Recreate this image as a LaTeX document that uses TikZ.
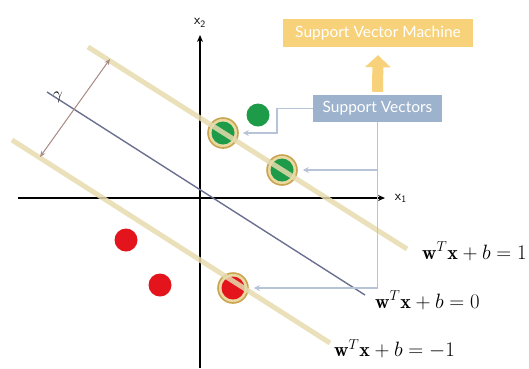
\documentclass[tikz,border=0pt]{standalone}
\usepackage{amsmath,amssymb,bm}
\usepackage{fontspec}
\newfontfamily\boxfont{Lato}
\usetikzlibrary{positioning,arrows.meta,calc}

\definecolor{margintan}{HTML}{E6DAAE}
\definecolor{hypblue}{HTML}{6B7090}
\definecolor{gapbrown}{HTML}{A88A86}
\definecolor{ptgreen}{HTML}{1E9B48}
\definecolor{ptred}{HTML}{E3141B}
\definecolor{ringgold}{HTML}{C9A552}
\definecolor{ringfill}{HTML}{EAD9A2}
\definecolor{svmyellow}{HTML}{F7D27A}
\definecolor{svblue}{HTML}{9DB2CD}
\definecolor{connblue}{HTML}{B7C4D7}

\begin{document}
\begin{tikzpicture}[x=1pt,y=-1pt,
  axis/.style={line width=1.3pt,-{Stealth[length=7pt,width=6pt]}},
  marginline/.style={line width=5pt,margintan,opacity=0.85},
  dot/.style={circle,minimum size=23pt,inner sep=0pt},
  supvec/.style={circle,draw=ringgold,fill=ringfill,line width=1.6pt,minimum size=30pt,inner sep=0pt},
  conn/.style={connblue,line width=1.5pt,-{Stealth[length=6pt,width=6pt]}},
  tagbox/.style={text=white,font=\boxfont\fontsize{15.5}{17}\selectfont,inner sep=0pt},
  eqlabel/.style={anchor=west,font=\fontsize{20}{22}\selectfont,inner sep=0pt}]
\useasboundingbox (0,0) rectangle (529,368);
% axes
\draw[axis] (200,368) -- (200,35) node[above=4pt] (xtwo) {\sffamily\fontsize{14}{14}\selectfont x\textsubscript{2}};
\draw[axis] (18,198) -- (385,198) node[right=6pt] (xone) {\sffamily\fontsize{14}{14}\selectfont x\textsubscript{1}};
% points
\node[dot,fill=ptgreen] (g1) at (258,115) {};
\node[dot,fill=ptred] (r1) at (126,240) {};
\node[dot,fill=ptred] (r2) at (160,285) {};
\node[supvec] (sv1) at (223,133) {};
\node[dot,fill=ptgreen] at (sv1) {};
\node[supvec] (sv2) at (282,170) {};
\node[dot,fill=ptgreen] at (sv2) {};
\node[supvec] (sv3) at (233,288) {};
\node[dot,fill=ptred] at (sv3) {};
% hyperplanes
\draw[hypblue,line width=1.4pt] (47,92) -- (365,295);
\draw[marginline] (88,47) -- (407,249);
\draw[marginline] (12,140) -- (330,343);
% margin width
\draw[gapbrown,line width=1pt,{Stealth[length=6pt,width=5pt]}-{Stealth[length=6pt,width=5pt]}] (110,59) -- (40,157);
\node[font=\fontsize{18}{18}\selectfont] (gam) at (58,97) {$\gamma$};
% labels
\node[eqlabel] (lplus) at (422,251) {$\mathbf{w}^{T}\mathbf{x}+b=1$};
\node[eqlabel] (lzero) at (375,300) {$\mathbf{w}^{T}\mathbf{x}+b=0$};
\node[eqlabel] (lminus) at (334,349) {$\mathbf{w}^{T}\mathbf{x}+b=-1$};
% boxes
\node[tagbox,fill=svmyellow,minimum width=190pt,minimum height=28pt] (svm) at (378,33) {Support Vector Machine};
\node[tagbox,fill=svblue,minimum width=129pt,minimum height=27pt] (svbox) at (377.5,108.5) {Support Vectors};
\draw[svmyellow,line width=11pt,-{Triangle[length=12pt,width=25pt]}] (svbox.north) ++(0,-3) coordinate (up0) -- ($(svm.south)+(0,8)$);
% connectors
\draw[conn,shorten >=4pt] (svbox.west) -- ++(-36,0) |- (sv1.east);
\draw[conn,shorten >=5pt] (svbox.south) |- (sv3.east);
\draw[conn,shorten >=5pt] (svbox.south |- sv2.east) -- (sv2.east);
\end{tikzpicture}
\end{document}
